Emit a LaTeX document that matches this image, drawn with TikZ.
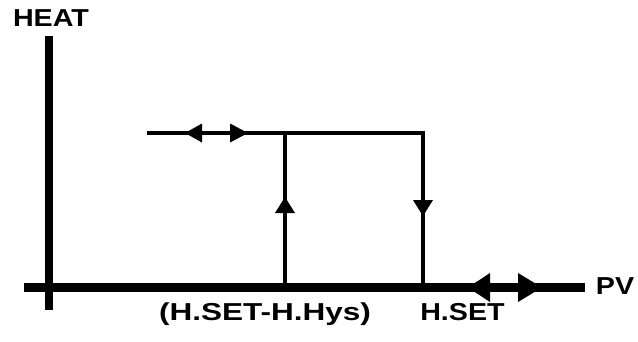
\documentclass[tikz,border=0pt]{standalone}
\usepackage{fontspec}
\setmainfont[FakeStretch=1.17]{Liberation Sans}
\begin{document}
\begin{tikzpicture}[x=1pt,y=-1pt,
  lbl/.style={font=\fontsize{24.5}{29}\selectfont\bfseries, anchor=base, inner sep=0pt},
  axisline/.style={line width=8.5pt},
  curve/.style={line width=4pt},
  tri/.style={fill=black}]
\useasboundingbox (0,0) rectangle (638,341);
% axes
\coordinate (ytop) at (49,36);
\coordinate (ybot) at (49,310);
\coordinate (xl) at (24,287.5);
\coordinate (xr) at (585,287.5);
\draw[axisline] (ytop) -- (ybot);
\draw[axisline] (xl) -- (xr);
% hysteresis loop
\coordinate (tl) at (147,133);
\coordinate (tm) at (285,133);
\coordinate (tr) at (423,133);
\coordinate (bm) at (285,287.5);
\coordinate (br) at (423,287.5);
\draw[curve] (tl) -- (tr) -- (br);
\draw[curve] (bm) -- (tm);
% arrow heads on verticals
\fill[tri] (275,213) -- (285,197) -- (295,213) -- cycle;
\fill[tri] (413,200) -- (423,216) -- (433,200) -- cycle;
% top double arrow
\fill[tri] (202,123.5) -- (185,133) -- (202,142.5) -- cycle;
\fill[tri] (230,123.5) -- (248,133) -- (230,142.5) -- cycle;
% bottom double arrow
\fill[tri] (490,273) -- (468,287.5) -- (490,302) -- cycle;
\fill[tri] (518,273) -- (542,287.5) -- (518,302) -- cycle;
% labels
\node[lbl] (heat) at (51,26) {HEAT};
\node[lbl] (pv) at (615,294) {PV};
\node[lbl] (hys) at (265,320) {\scalebox{1.1}[1]{(H.SET-H.Hys)}};
\node[lbl] (hset) at (462.5,320) {H.SET};
\end{tikzpicture}
\end{document}
